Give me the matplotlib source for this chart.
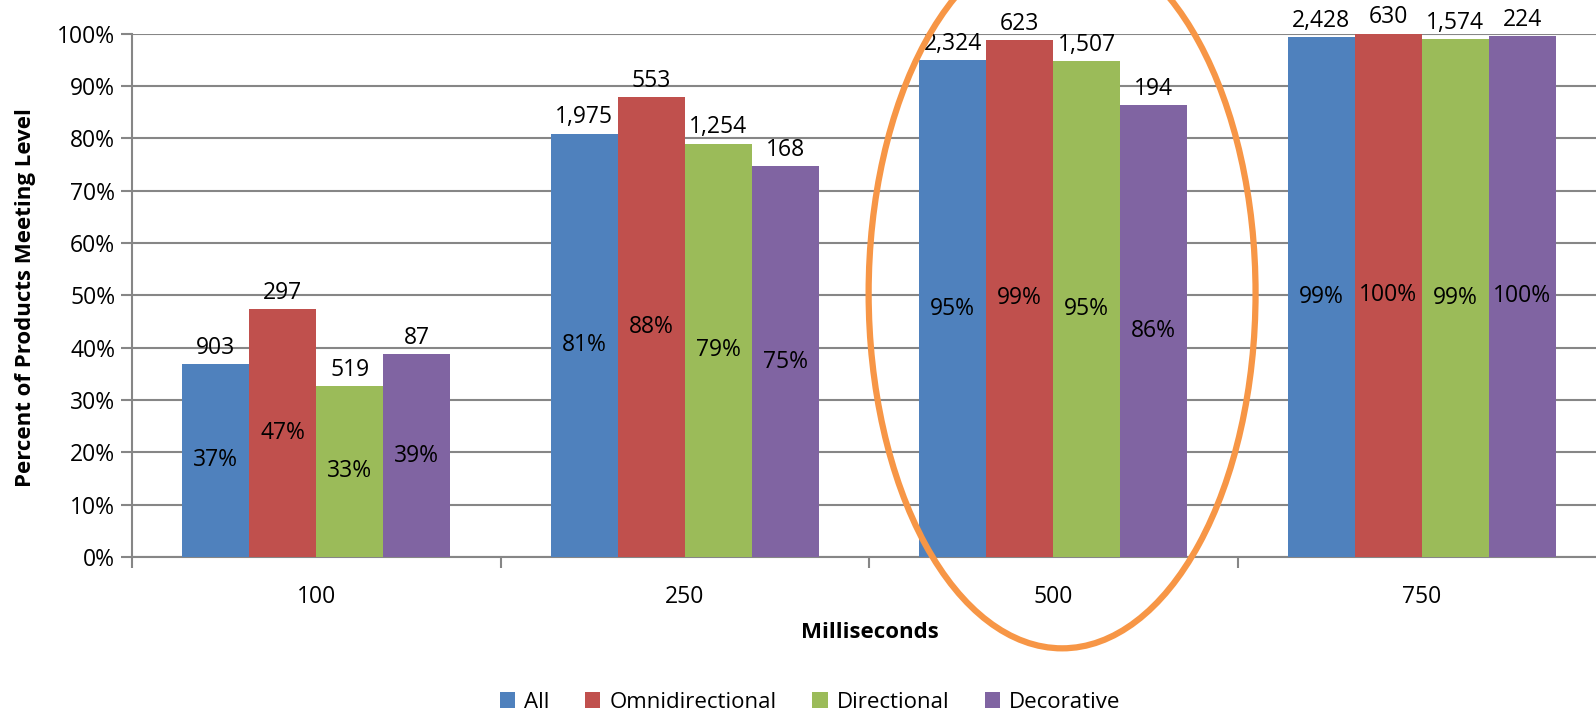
import matplotlib
matplotlib.use("Agg")
import matplotlib.pyplot as plt
from matplotlib.patches import Ellipse, Patch
import numpy as np

plt.rcParams['font.family'] = ['Open Sans', 'DejaVu Sans']

categories = ["100", "250", "500", "750"]
series_names = ["All", "Omnidirectional", "Directional", "Decorative"]
pct_all = [0.369, 0.809, 0.949, 0.994]
pct_omni = [0.473, 0.879, 0.988, 1.000]
pct_dir = [0.327, 0.790, 0.947, 0.990]
pct_dec = [0.387, 0.747, 0.864, 0.996]
cnt_all = [903, 1975, 2324, 2428]
cnt_omni = [297, 553, 623, 630]
cnt_dir = [519, 1254, 1507, 1574]
cnt_dec = [87, 168, 194, 224]
colors = ["#4F81BD", "#C0504D", "#9BBB59", "#8064A2"]
y_ticks = [0, .1, .2, .3, .4, .5, .6, .7, .8, .9, 1.0]

pcts = [pct_all, pct_omni, pct_dir, pct_dec]
cnts = [cnt_all, cnt_omni, cnt_dir, cnt_dec]

W, H = 1596, 716
fig = plt.figure(figsize=(W / 100, H / 100), dpi=100)
x0, x1, y0, y1 = 132, 1606, 557, 33.6
ax = fig.add_axes([x0 / W, 1 - y0 / H, (x1 - x0) / W, (y0 - y1) / H])

grid_c = "#868686"
fs = 16.5
x = np.arange(len(categories))
bw = 0.182
for i, (p, c) in enumerate(zip(pcts, cnts)):
    bars = ax.bar(x + (i - 1.5) * bw, p, bw, color=colors[i], zorder=3)
    for b, v, n in zip(bars, p, c):
        cx = b.get_x() + b.get_width() / 2
        ax.text(cx, v / 2, f"{round(v * 100)}%", ha="center", va="center",
                fontsize=fs, color="black", zorder=5)
        ax.text(cx, v + 0.008, f"{n:,}", ha="center", va="bottom",
                fontsize=fs, color="black", zorder=5, clip_on=False)

ax.set_xlim(-0.5, 3.5)
ax.set_ylim(0, 1.0)
ax.set_yticks(y_ticks)
ax.set_yticklabels([f"{int(round(t * 100))}%" for t in y_ticks], fontsize=fs)
ax.yaxis.grid(True, color=grid_c, lw=1.5, zorder=0)
ax.set_axisbelow(True)

ax.set_xticks(x)
ax.set_xticklabels(categories, fontsize=fs)
ax.tick_params(axis="x", length=0, pad=20)
ax.set_xticks(np.arange(-0.5, 4, 1), minor=True)
ax.tick_params(axis="x", which="minor", length=8, width=1.5, color=grid_c, direction="out")
ax.tick_params(axis="y", length=8, width=1.5, color=grid_c, direction="out", pad=4)

for s in ["top", "right"]:
    ax.spines[s].set_visible(False)
for s in ["left", "bottom"]:
    ax.spines[s].set_color(grid_c)
    ax.spines[s].set_linewidth(1.5)

fig.text(26 / W, 1 - 298 / H, "Percent of Products Meeting Level", rotation=90,
         ha="center", va="center", fontsize=16, fontweight="bold")
fig.text(870 / W, 1 - 632 / H, "Milliseconds", ha="center", va="center",
         fontsize=16, fontweight="bold")

ell = Ellipse((2.024, 0.504), width=1.05, height=1.357, fill=False,
              edgecolor="#F79646", lw=4.5, clip_on=False, zorder=6)
ax.add_patch(ell)

handles = [Patch(facecolor=colors[i], label=series_names[i]) for i in range(4)]
fig.legend(handles=handles, loc="center", bbox_to_anchor=(810 / W, 1 - 702 / H),
           ncol=4, frameon=False, fontsize=16, handlelength=0.7, handleheight=0.7,
           handletextpad=0.4, columnspacing=1.6)

fig.savefig("out.png", dpi=100)
